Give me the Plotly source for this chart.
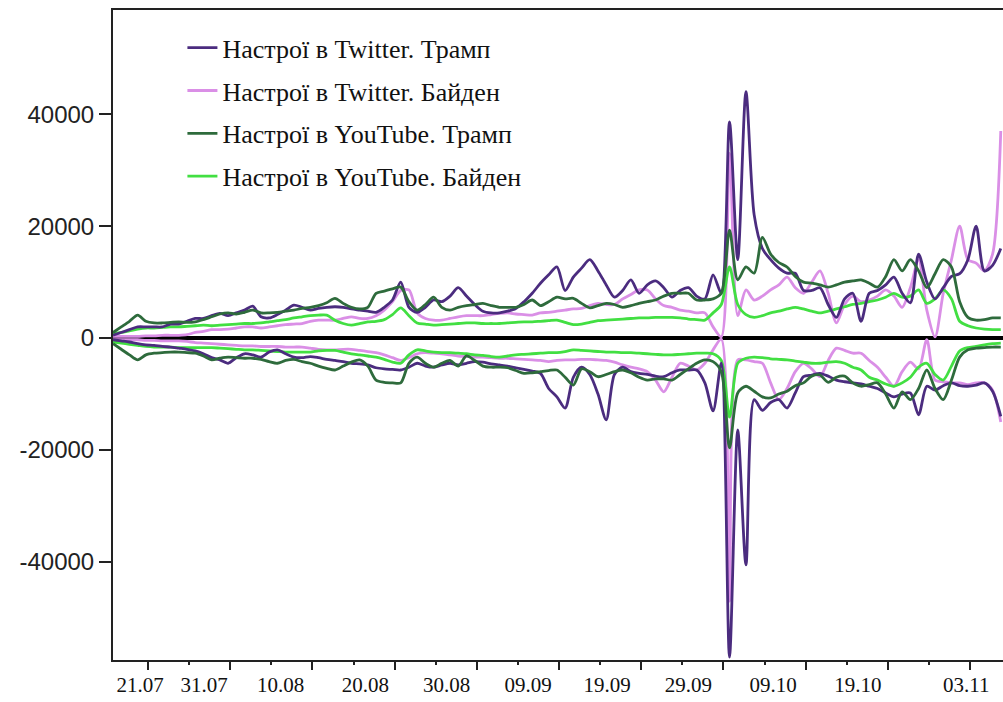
import plotly.graph_objects as go

# day index (0 = start of observation window), one value per day
days = list(range(109))

# values in thousands
tw_trump_pos = [0.5,1,1.5,2,2,2,2,2.5,2.5,3,3.5,3.5,4,4.4,4,4.5,5,5.7,3.8,3.6,4.2,5,5.9,5.5,5,5.3,5.5,5.6,5.5,5.2,
                5,4.8,4.6,5.5,6.8,10,5.5,4.6,5.5,6.8,6.5,7.5,9,7.5,6,4.8,4.5,4.5,4.8,5.3,
                6.5,8,9.8,11.3,12.7,8.5,10.9,12.5,14,12,9.5,7.3,8.5,10.4,8,9.5,10.2,9,7.3,8.5,
                9,7.5,7,11.3,8,38.6,14,44,22,16,14,12.5,11.6,11.6,8.5,8.5,9,6,3.7,7,
                8,3,8,8.5,9.5,10.9,8,6.3,15,10,7,9,11,11.5,14,20,12,13,16]
tw_trump_neg = [-0.3,-0.5,-0.7,-1,-1.2,-1.3,-1.5,-1.6,-1.8,-2,-2.3,-2.8,-3.5,-3.9,-4.5,-3.5,-2.8,-3,-3.4,-2.5,
                -2.1,-2.8,-3.4,-3.5,-3.3,-3.5,-3.8,-4,-4.2,-4.5,-4.6,-4.8,-5.3,-5.5,-5.6,-5.7,-5.2,-4.5,-5,-5.2,
                -4.8,-4.5,-4.8,-4.5,-4.2,-4.3,-4.6,-4.8,-5,-5.3,-5.6,-5.9,-6.3,-9,-10.5,-12.5,-7,-5.2,-6.5,-10,
                -14.6,-6.5,-5.2,-6,-6.3,-6.5,-6.8,-6.9,-6.2,-5.7,-5.7,-5.7,-8,-13,-4.5,-57,-16.4,-40.5,-11,-12.9,
                -11.5,-11,-12.5,-9.8,-6.9,-6.6,-6.3,-6.8,-7.5,-7.8,-8,-8.2,-8.6,-9,-9.8,-10.5,-10,-9.8,-13.7,-8.6,
                -9.3,-8.5,-8,-8.5,-8.6,-8.4,-8,-9.5,-14]
tw_biden_pos = [0.3,0.3,0.3,0.3,0.4,0.4,0.5,0.5,0.5,0.6,1,1.2,1.5,1.5,1.6,1.8,2,2,1.8,2,
                2.2,2.4,2.5,2.6,3,3.2,3.2,3.2,3.5,3.8,3.5,3.5,4,5,6.5,8.5,8.6,4.5,3.5,3.2,
                3.2,3.5,3.8,4,4,4,4.2,4.4,4.5,4.3,4.2,4.1,4.5,4.6,4.8,5,5.2,5.3,5.8,6.2,
                6,6,7,7.8,8.6,8.6,7,5.8,5.5,5,4.8,4.5,4.5,2,0.2,33,4,8.6,6.8,7.5,
                8.6,9.5,10.9,9,8,10,12,8,2.7,6,7.5,6.5,6.8,7.5,8.6,7.5,5.5,9,14,5,
                0.2,8,14,20,14,13.4,12,15,37]
tw_biden_neg = [-0.3,-0.3,-0.3,-0.3,-0.4,-0.4,-0.5,-0.5,-0.5,-0.6,-0.8,-0.9,-1,-1.1,-1.2,-1.3,-1.4,-1.4,-1.5,-1.5,
                -1.5,-1.6,-1.6,-1.6,-1.8,-2,-2.1,-2.1,-2,-2,-2.2,-2.4,-2.6,-3,-3.5,-4,-3.5,-2.8,-2.6,-2.7,
                -2.8,-3,-3.2,-3.3,-3.4,-3.4,-3.5,-3.6,-3.6,-3.7,-3.8,-3.9,-4,-4.2,-4,-3.9,-3.9,-3.8,-3.8,-3.9,
                -4,-4.3,-4.8,-5.2,-5.5,-6,-7.5,-9.6,-7,-4.5,-5,-5.7,-4.5,-2.1,-0.2,-47,-3.9,-3.9,-4.2,-4.5,
                -8,-11,-9,-6,-4.5,-5.5,-6.9,-4,-1.8,-2.2,-2.7,-2.7,-4,-5.2,-7,-8.6,-6,-4.3,-5.5,-0.3,
                -7.5,-7.8,-8,-8,-8.3,-8,-8,-9.3,-15]
yt_trump_pos = [1,2,3,4.1,3,2.7,2.7,2.8,2.9,2.8,2.9,3.3,3.8,4.3,4.5,4.3,4.6,5,4.5,4.5,
                4.6,4.8,5,5.3,5.5,5.8,6.3,7.1,6.2,5.5,5.2,5.5,8,8.4,8.8,9.1,6.5,5,6,7.3,
                5.5,5,5.5,5.8,6,6.2,5.8,5.5,5.5,5.5,6,6.8,5.8,6.5,7.3,7,7.1,6.2,5.4,5.8,
                6.2,6,5.5,5.8,6.2,6.5,6.8,7.5,8,8,8,6.8,6.8,7,8,19.3,10.4,12.7,11.6,18,
                15,13.5,12.7,11,10,9.8,9.5,9.1,9.5,10,10.2,10.4,9.8,9.1,11,14,12,14,12,9,
                11.5,14,12.7,6.5,3.7,3.2,3.3,3.6,3.6]
yt_trump_neg = [-1,-2,-3,-3.9,-3,-2.7,-2.6,-2.5,-2.5,-2.6,-2.7,-3.2,-3.9,-3.6,-3.4,-3.5,-3.6,-3.6,-3.8,-4.2,
                -4.5,-4,-3.8,-4.2,-4.5,-5,-5.4,-5.7,-5,-4.3,-3.9,-5,-7.5,-7.9,-8,-8,-4.5,-3.4,-4.5,-5.2,
                -4.5,-4,-5,-3.2,-4,-5,-5.2,-5.2,-5.3,-5.8,-6.3,-6.2,-6,-5.8,-5.7,-7,-8.4,-5.5,-6,-6.9,
                -6.5,-6,-5.7,-6.2,-7,-7.5,-7.3,-7.3,-7.5,-6.5,-5.5,-4.5,-3.9,-4.2,-6,-19.6,-9.8,-8.6,-9.5,-10.5,
                -10.7,-10,-9.5,-8.5,-8,-6.8,-6.6,-7.9,-7,-6.8,-8,-8.6,-8.3,-8,-10,-12.5,-9.6,-11,-9,-5.7,
                -9,-11,-7.5,-3.4,-2.1,-1.8,-1.7,-1.6,-1.6]
yt_biden_pos = [0.8,1,1.3,1.6,1.8,1.8,1.9,2,2,2.1,2.2,2.3,2.2,2.3,2.4,2.5,2.6,2.6,2.7,2.9,
                3.1,3.3,3.6,3.8,4,4.1,4.1,3.2,2.6,2.3,2.6,2.9,3,3.3,4.2,5.4,4,2.7,2.5,2.3,
                2.4,2.5,2.6,2.7,2.7,2.6,2.6,2.6,2.7,2.8,2.9,2.9,3,3.1,3.2,2.8,2.4,2.5,2.8,3.1,
                3.2,3.3,3.4,3.5,3.6,3.6,3.7,3.7,3.7,3.6,3.4,3.3,3.2,4.5,6,12.7,6,4.2,3.7,4,
                4.5,4.8,5.2,5.5,5.2,4.8,4.5,4.8,5.2,5.6,6,6.2,6.5,6.8,7.3,8,7.3,7.5,8.6,6.2,
                7,8.6,7,3,2.2,1.8,1.6,1.5,1.5]
yt_biden_neg = [-0.7,-0.9,-1.1,-1.3,-1.5,-1.6,-1.6,-1.6,-1.7,-1.7,-1.7,-1.7,-1.7,-1.8,-1.9,-2,-2.1,-2.1,-2.2,-2.3,
                -2.4,-2.5,-2.5,-2.5,-2.5,-2.3,-2.2,-2.2,-2.5,-2.8,-3,-3.2,-3.4,-3.8,-4.3,-4.5,-3,-2.1,-2.3,-2.5,
                -2.6,-2.6,-2.7,-2.8,-3,-3.1,-3.3,-3.4,-3.2,-3,-2.9,-2.8,-2.7,-2.6,-2.6,-2.4,-2.1,-2.2,-2.3,-2.4,
                -2.5,-2.5,-2.6,-2.6,-2.7,-2.8,-2.9,-3,-3,-2.9,-2.8,-2.7,-2.7,-2.8,-4,-14.1,-4.5,-3.6,-3.4,-3.5,
                -3.7,-3.8,-3.9,-4.1,-4.3,-4.5,-4.5,-4.3,-4.2,-4.5,-5.2,-5.7,-7,-7.5,-8.2,-8.6,-8,-7,-5.2,-4.5,
                -6.5,-7.5,-5,-2.3,-1.7,-1.5,-1.2,-1,-0.9]

series_names = ["Настрої в Twitter. Трамп", "Настрої в Twitter. Байден",
                "Настрої в YouTube. Трамп", "Настрої в YouTube. Байден"]
series_colors = ["#4B2C7F", "#DA8FE6", "#2E6B3C", "#42DF42"]

date_labels = ["21.07", "31.07", "10.08", "20.08", "30.08", "09.09",
               "19.09", "29.09", "09.10", "19.10", "03.11"]
label_pos = [3.3, 11.1, 20.4, 30.7, 40.6, 50.5, 60.1, 70.0, 80.3, 90.6, 103.8]

data = {
    0: (tw_trump_pos, tw_trump_neg),
    1: (tw_biden_pos, tw_biden_neg),
    2: (yt_trump_pos, yt_trump_neg),
    3: (yt_biden_pos, yt_biden_neg),
}

fig = go.Figure()
draw_order = [1, 3, 0, 2]
for i in draw_order:
    pos, neg = data[i]
    for k, vals in enumerate((pos, neg)):
        fig.add_trace(go.Scatter(
            x=days, y=[v * 1000 for v in vals], mode="lines",
            name=series_names[i], legendgroup=series_names[i],
            showlegend=(k == 0), legendrank=i + 1,
            line=dict(color=series_colors[i], width=2.8, shape="spline", smoothing=0.8),
            hoverinfo="skip"))

# invisible helper trace so the label axis is drawn
fig.add_trace(go.Scatter(x=[0], y=[0], xaxis="x2", mode="markers",
                         marker=dict(opacity=0), showlegend=False, hoverinfo="skip"))

xr = [0, 108.27]
fig.update_layout(
    width=1003, height=702,
    margin=dict(l=113, r=0, t=10, b=42),
    paper_bgcolor="white", plot_bgcolor="white",
    showlegend=True,
    legend=dict(x=0.078, y=0.978, xanchor="left", yanchor="top",
                bgcolor="rgba(0,0,0,0)", borderwidth=0,
                font=dict(family="Liberation Serif", size=26, color="#111"),
                traceorder="grouped", tracegroupgap=6),
    xaxis=dict(range=xr, showgrid=False, zeroline=False,
               showline=True, linecolor="#222", linewidth=2, mirror=True,
               ticks="outside", tick0=4.26, dtick=10, ticklen=8, tickwidth=2, tickcolor="#222",
               showticklabels=False,
               minor=dict(ticks="outside", tick0=4.26, dtick=5, ticklen=3, tickwidth=2, tickcolor="#222")),
    xaxis2=dict(range=xr, overlaying="x", side="bottom", anchor="y",
                showgrid=False, zeroline=False, showline=False,
                tickmode="array", tickvals=label_pos, ticktext=date_labels,
                ticks="outside", ticklen=6, tickcolor="rgba(0,0,0,0)",
                tickfont=dict(family="Liberation Serif", size=21, color="#111")),
    yaxis=dict(range=[-57500, 58600], showgrid=False,
               zeroline=True, zerolinecolor="#000", zerolinewidth=4,
               showline=True, linecolor="#222", linewidth=2, mirror=False,
               ticks="outside", ticklen=12, tickwidth=2, tickcolor="#222",
               tickmode="array", tickvals=[-40000, -20000, 0, 20000, 40000],
               ticktext=["-40000", "-20000", "0", "20000", "40000"],
               tickfont=dict(family="Liberation Sans", size=24, color="#222")),
)

fig.write_html("out.html")
